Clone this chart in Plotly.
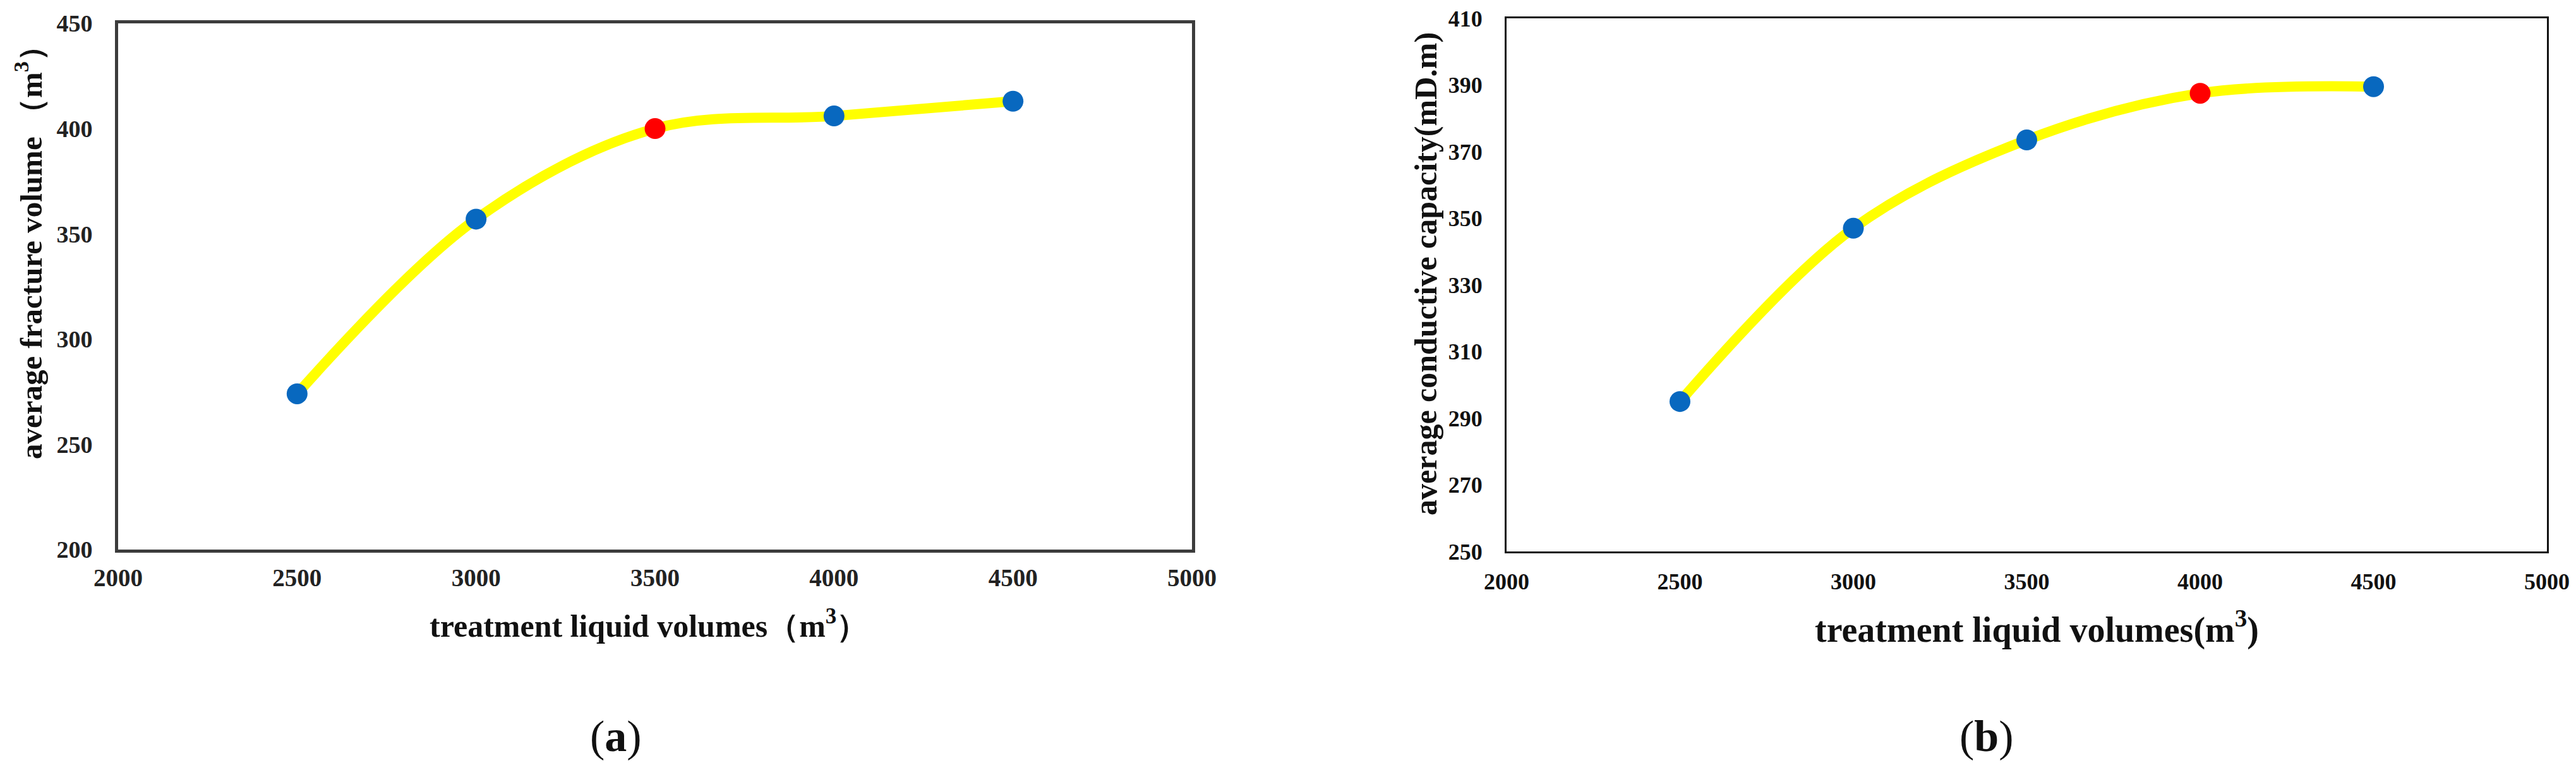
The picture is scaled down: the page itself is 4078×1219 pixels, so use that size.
import plotly.graph_objects as go

# ---- data ----
liquid_volumes = [2500, 3000, 3500, 4000, 4500]
fracture_volume = [274, 357, 400, 406, 413]
conductive_capacity = [295, 347, 373.5, 387.5, 389.5]
optimal_a = 3500
optimal_b = 4000
x_ticks = [2000, 2500, 3000, 3500, 4000, 4500, 5000]
y_ticks_a = [200, 250, 300, 350, 400, 450]
y_ticks_b = [250, 270, 290, 310, 330, 350, 370, 390, 410]

# page is 4078x1219; the HTML body has an 8px default margin
PAGE_W, PAGE_H = 4078, 1219
OFF = 8
W, H = PAGE_W - 2 * OFF, PAGE_H - 2 * OFF
BLUE = "#0868BF"
RED = "#FF0000"
YELLOW = "#FFFF00"
SERIF = "Liberation Serif"


def px(x):
    return (x - OFF) / W


def py(y):
    return 1 - (y - OFF) / H


fig = go.Figure()


def add_panel(xs, ys, opt, xa, ya):
    fig.add_trace(go.Scatter(
        x=xs, y=ys, mode="lines",
        line=dict(color=YELLOW, width=16, shape="spline", smoothing=1.0),
        xaxis=xa, yaxis=ya, showlegend=False, hoverinfo="skip"))
    colors = [RED if v == opt else BLUE for v in xs]
    fig.add_trace(go.Scatter(
        x=xs, y=ys, mode="markers",
        marker=dict(color=colors, size=33, line=dict(width=0)),
        xaxis=xa, yaxis=ya, showlegend=False))


add_panel(liquid_volumes, fracture_volume, optimal_a, "x", "y")
add_panel(liquid_volumes, conductive_capacity, optimal_b, "x2", "y2")

axis_common = dict(showgrid=False, zeroline=False, ticks="", mirror=True,
                   showline=True, automargin=False, ticklabeloverflow="allow")

fig.update_layout(
    template="none",
    width=W, height=H,
    margin=dict(l=0, r=0, t=0, b=0, pad=0),
    paper_bgcolor="white", plot_bgcolor="white",
    xaxis=dict(domain=[px(187), px(1887)], range=[2000, 5000],
               tickvals=x_ticks, anchor="y",
               linecolor="#3c3c3c", linewidth=5,
               tickfont=dict(family=SERIF, size=39, color="#222", weight="bold"),
               ticklabelstandoff=6, **axis_common),
    yaxis=dict(domain=[py(870), py(37)], range=[200, 450],
               tickvals=y_ticks_a, anchor="x",
               linecolor="#3c3c3c", linewidth=5,
               tickfont=dict(family=SERIF, size=38, color="#222", weight="bold"),
               ticklabelstandoff=28, **axis_common),
    xaxis2=dict(domain=[px(2385), px(4032)], range=[2000, 5000],
                tickvals=x_ticks, anchor="y2",
                linecolor="#111", linewidth=3,
                tickfont=dict(family=SERIF, size=36, color="#111", weight="bold"),
                ticklabelstandoff=14, **axis_common),
    yaxis2=dict(domain=[py(873), py(29)], range=[250, 410],
                tickvals=y_ticks_b, anchor="x2",
                linecolor="#111", linewidth=3,
                tickfont=dict(family=SERIF, size=36, color="#111", weight="bold"),
                ticklabelstandoff=28, **axis_common),
)

ann_font = dict(family=SERIF, color="#111")
annotations = [
    dict(text="<b>average fracture volume （m<sup>3</sup>）</b>",
         x=px(45), y=py(388), textangle=-90,
         font=dict(size=49, **ann_font)),
    dict(text="<b>treatment liquid volumes（m<sup>3</sup>）</b>",
         x=px(1027), y=py(987),
         font=dict(size=50, **ann_font)),
    dict(text="<b>average conductive capacity(mD.m)</b>",
         x=px(2257), y=py(434), textangle=-90,
         font=dict(size=50, **ann_font)),
    dict(text="<b>treatment liquid volumes(m<sup>3</sup>)</b>",
         x=px(3224), y=py(993),
         font=dict(size=56, **ann_font)),
    dict(text="(<b>a</b>)", x=px(975), y=py(1165),
         font=dict(size=70, **ann_font)),
    dict(text="(<b>b</b>)", x=px(3145), y=py(1165),
         font=dict(size=70, **ann_font)),
]
for a in annotations:
    a.update(xref="paper", yref="paper", showarrow=False,
             xanchor="center", yanchor="middle")
fig.update_layout(annotations=annotations)

fig.write_html("out.html")
